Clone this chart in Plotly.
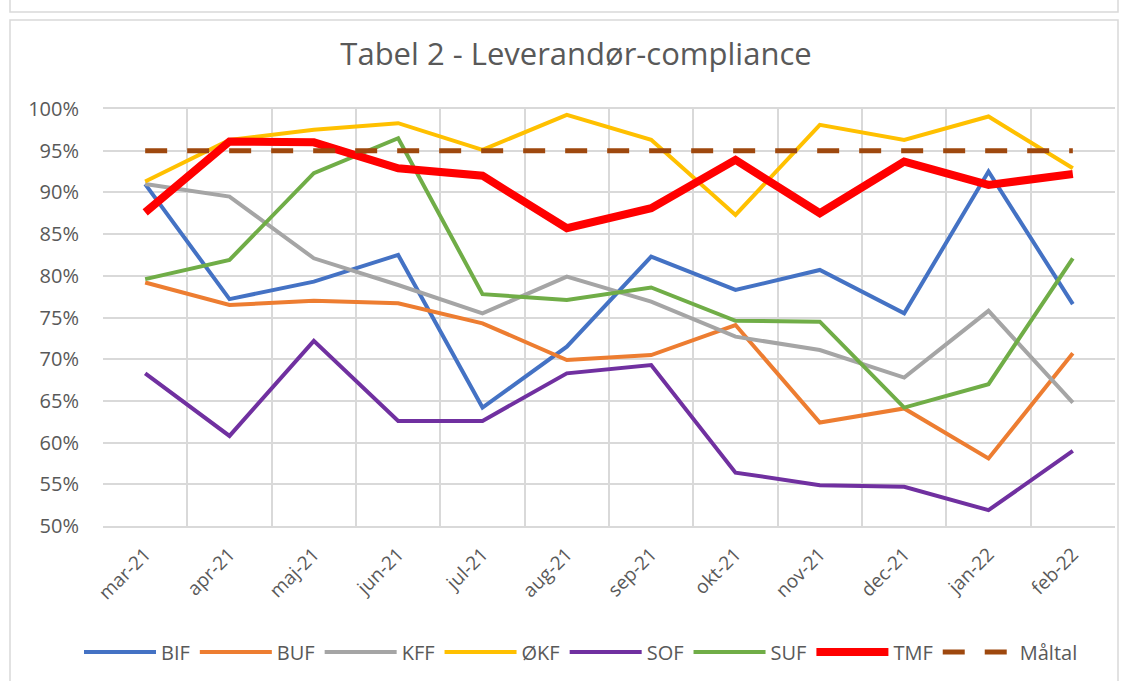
import plotly.graph_objects as go

categories = ["mar-21", "apr-21", "maj-21", "jun-21", "jul-21", "aug-21",
              "sep-21", "okt-21", "nov-21", "dec-21", "jan-22", "feb-22"]

BIF = [91.0, 77.2, 79.3, 82.5, 64.2, 71.5, 82.3, 78.3, 80.7, 75.5, 92.5, 76.6]
BUF = [79.2, 76.5, 77.0, 76.7, 74.3, 69.9, 70.5, 74.1, 62.4, 64.1, 58.1, 70.7]
KFF = [91.0, 89.5, 82.1, 78.9, 75.5, 79.9, 76.9, 72.7, 71.1, 67.8, 75.8, 64.8]
OKF = [91.3, 96.3, 97.5, 98.3, 95.1, 99.3, 96.3, 87.3, 98.1, 96.3, 99.1, 92.9]
SOF = [68.3, 60.8, 72.2, 62.6, 62.6, 68.3, 69.3, 56.4, 54.9, 54.7, 51.9, 59.0]
SUF = [79.6, 81.9, 92.3, 96.5, 77.8, 77.1, 78.6, 74.6, 74.5, 64.2, 67.0, 82.1]
TMF = [87.6, 96.1, 96.0, 92.9, 92.0, 85.7, 88.1, 93.9, 87.5, 93.7, 90.9, 92.2]
MALTAL = [95, 95, 95, 95, 95, 95, 95, 95, 95, 95, 95, 95]

series_names = ["BIF", "BUF", "KFF", "ØKF", "SOF", "SUF", "TMF", "Måltal"]
series_values = [BIF, BUF, KFF, OKF, SOF, SUF, TMF, MALTAL]
y_ticks = [50, 55, 60, 65, 70, 75, 80, 85, 90, 95, 100]

colors = ["#4472C4", "#ED7D31", "#A5A5A5", "#FFC000", "#7030A0", "#70AD47", "#FF0000", "#9E480E"]
widths = [4, 4, 4, 4, 4, 4, 8, 5]
dashes = ["solid"] * 7 + ["22px,20px"]

FONT = "Open Sans"
TXT = "#595959"

fig = go.Figure()
for name, vals, c, w, d in zip(series_names, series_values, colors, widths, dashes):
    fig.add_trace(go.Scatter(
        x=categories, y=vals, name=name, mode="lines",
        line=dict(color=c, width=w, dash=d),
        hovertemplate="%{x}: %{y:.1f}%<extra>" + name + "</extra>",
    ))

L, R, T, B = 103, 15, 109, 155
W, H = 1130, 681
pw = W - L - R
ph = H - T - B

def px_x(p):
    return (p - L) / pw

def px_y(p):
    return (H - B - p) / ph

shapes = [
    dict(type="rect", xref="paper", yref="paper",
         x0=px_x(10), x1=px_x(1118), y0=px_y(700), y1=px_y(20),
         line=dict(color="#D9D9D9", width=1.5), fillcolor="rgba(0,0,0,0)", layer="below"),
    dict(type="rect", xref="paper", yref="paper",
         x0=px_x(10), x1=px_x(1118), y0=px_y(12), y1=px_y(-20),
         line=dict(color="#D9D9D9", width=1.5), fillcolor="rgba(0,0,0,0)", layer="below"),
]

fig.update_layout(
    width=W, height=H,
    margin=dict(l=L, r=R, t=T, b=B, autoexpand=False),
    paper_bgcolor="white", plot_bgcolor="white",
    font=dict(family=FONT, color=TXT, size=18),
    title=dict(text="Tabel 2 - Leverandør-compliance", x=576 / W, xanchor="center",
               y=1 - 54 / H, yanchor="middle", font=dict(size=31, color=TXT, family=FONT)),
    showlegend=True,
    legend=dict(orientation="h", x=px_x(581), xanchor="center", y=px_y(652), yanchor="middle",
                font=dict(size=20, color=TXT, family=FONT), itemwidth=72,
                traceorder="normal", bgcolor="rgba(0,0,0,0)"),
    shapes=shapes,
    hovermode="closest",
)

fig.update_xaxes(
    type="category", categoryorder="array", categoryarray=categories,
    range=[-0.5, len(categories) - 0.5],
    tickson="boundaries", showgrid=True, gridcolor="#D9D9D9", gridwidth=1.5,
    ticks="", tickangle=-45, tickfont=dict(size=19, color=TXT, family=FONT),
    ticklabelstandoff=8,
    showline=True, linecolor="#D9D9D9", linewidth=1.5, mirror=True,
    zeroline=False, fixedrange=True,
)
fig.update_yaxes(
    range=[50, 100], tickvals=y_ticks, ticktext=[f"{v}%" for v in y_ticks],
    showgrid=True, gridcolor="#D9D9D9", gridwidth=1.5,
    ticks="", tickfont=dict(size=20, color=TXT, family=FONT), ticklabelstandoff=23,
    showline=False, zeroline=False, fixedrange=True,
)

fig.write_html("out.html", config={"displayModeBar": False},
               post_script="document.body.style.margin='0';document.body.style.overflow='hidden';")
